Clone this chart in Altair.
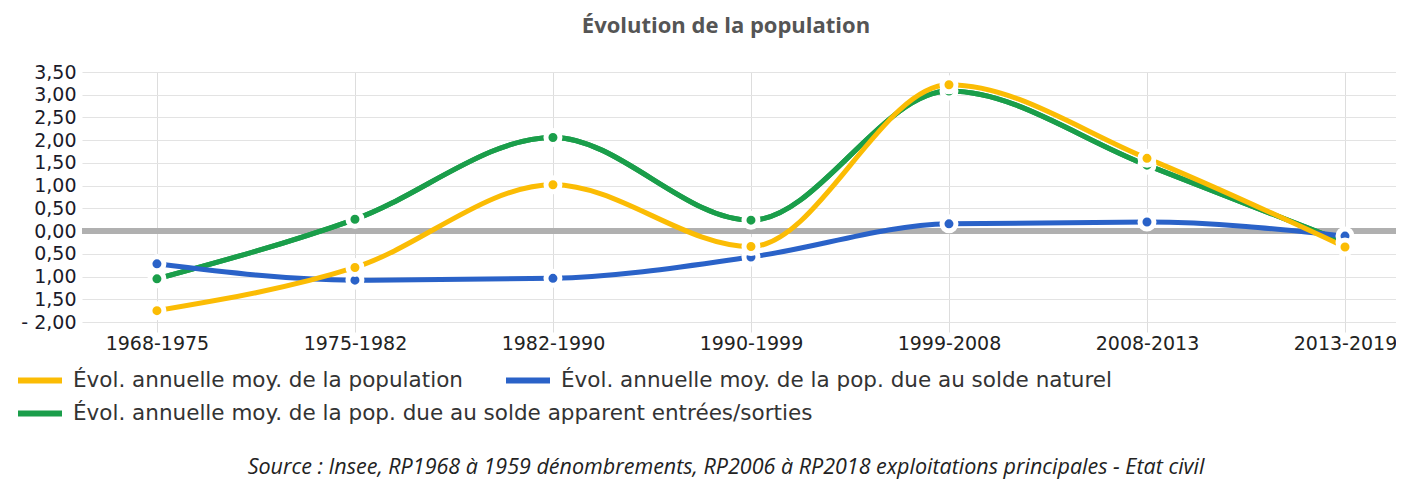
import altair as alt
import pandas as pd

# ---- data ----
periods = ["1968-1975", "1975-1982", "1982-1990", "1990-1999",
           "1999-2008", "2008-2013", "2013-2019"]
series_names = [
    "Évol. annuelle moy. de la population",
    "Évol. annuelle moy. de la pop. due au solde naturel",
    "Évol. annuelle moy. de la pop. due au solde apparent entrées/sorties",
]
population = [-1.75, -0.80, 1.02, -0.34, 3.22, 1.60, -0.35]
solde_naturel = [-0.72, -1.08, -1.04, -0.57, 0.16, 0.20, -0.11]
solde_apparent = [-1.05, 0.26, 2.06, 0.24, 3.08, 1.45, -0.25]
series_colors = ["#FBBC04", "#2A62C8", "#1A9E4A"]
y_ticks = [-2.0, -1.5, -1.0, -0.5, 0.0, 0.5, 1.0, 1.5, 2.0, 2.5, 3.0, 3.5]
zero_line = [0.0]
title_text = "Évolution de la population"
source_text = ("Source : Insee, RP1968 à 1959 dénombrements, "
               "RP2006 à RP2018 exploitations principales - Etat civil")

# draw order: green, blue, yellow (yellow on top)
rows = []
for name, vals in [(series_names[2], solde_apparent),
                   (series_names[1], solde_naturel),
                   (series_names[0], population)]:
    for p, v in zip(periods, vals):
        rows.append({"periode": p, "serie": name, "valeur": v})
df = pd.DataFrame(rows)
df_green = df[df["serie"] == series_names[2]]
df_zero = pd.DataFrame({"valeur": zero_line})
df_source = pd.DataFrame({"t": [source_text]})

W, H = 1314, 250

x_enc = alt.X(
    "periode:N",
    sort=periods,
    scale=alt.Scale(type="point", padding=0.318, align=0.595),
    axis=alt.Axis(
        title=None, labelAngle=0, labelFont="DejaVu Sans", labelFontSize=19,
        labelColor="#222222", labelPadding=2, domain=False,
        ticks=True, tickSize=10, tickColor="#dddddd",
        grid=True, gridColor="#dddddd", gridWidth=1,
    ),
)
y_enc = alt.Y(
    "valeur:Q",
    scale=alt.Scale(domain=[-2, 3.5], nice=False, zero=False),
    axis=alt.Axis(
        title=None, values=y_ticks,
        labelExpr="datum.value == -2 ? '- 2,00' : replace(format(abs(datum.value), '.2f'), '.', ',')",
        labelFont="DejaVu Sans", labelFontSize=19, labelColor="#1a1a2a",
        labelPadding=6, ticks=False, domain=False,
        grid=True, gridColor="#e3e3e3", gridWidth=1,
    ),
)
color_scale = alt.Scale(domain=series_names, range=series_colors)

legend_common = dict(
    title=None, orient="none", direction="horizontal",
    symbolType="stroke", symbolSize=1936, symbolStrokeWidth=6,
    clipHeight=33, columnPadding=40,
    labelFont="DejaVu Sans", labelFontSize=21.5, labelColor="#333333",
    labelLimit=0, labelOffset=8, padding=0,
)

zero = alt.Chart(df_zero).mark_rule(color="#b0b0b0", strokeWidth=6).encode(y=y_enc)

# green line drawn once more underneath; it carries the second legend row
green_under = alt.Chart(df_green).mark_line(interpolate="monotone", strokeWidth=5, strokeCap="round").encode(
    x=x_enc, y=y_enc,
    color=alt.Color(
        "serie:N", scale=color_scale,
        legend=alt.Legend(values=[series_names[2]], legendX=-67, legendY=325, **legend_common),
    ),
)

lines = alt.Chart(df).mark_line(interpolate="monotone", strokeWidth=5, strokeCap="round").encode(
    x=x_enc, y=y_enc,
    color=alt.Color(
        "serie:N", scale=color_scale,
        legend=alt.Legend(values=series_names[:2], legendX=-67, legendY=292, **legend_common),
    ),
)

points = alt.Chart(df).mark_circle(size=196, stroke="white", strokeWidth=5, opacity=1).encode(
    x=x_enc, y=y_enc,
    color=alt.Color("serie:N", scale=color_scale, legend=None),
)

source = alt.Chart(df_source).mark_text(
    align="center", baseline="alphabetic", font="Open Sans", fontStyle="italic",
    fontSize=21.5, color="#222222",
).encode(x=alt.value(644), y=alt.value(402), text="t:N")

chart = alt.layer(zero, green_under, lines, points, source).resolve_legend(color="independent").properties(
    width=W, height=H,
    autosize=alt.AutoSizeParams(type="none"),
    padding={"left": 74, "top": 64, "right": 0, "bottom": 159},
    background="white",
    title=alt.Title(
        title_text, anchor="middle", frame="group", dx=-13, offset=25,
        font="Open Sans", fontSize=22, fontWeight="bold", color="#555555",
    ),
).configure_view(stroke=None)

chart.save("out.html", embed_options={"renderer": "svg", "actions": False})
